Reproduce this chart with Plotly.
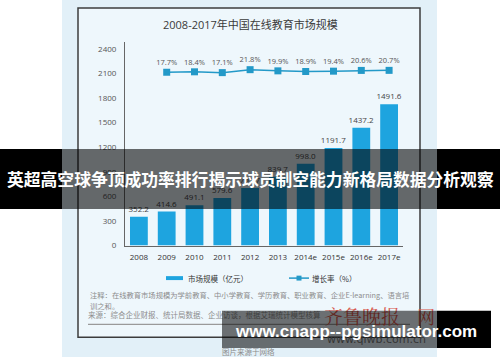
import plotly.graph_objects as go

# ---------------- data ----------------
years = ["2008", "2009", "2010", "2011", "2012", "2013", "2014e", "2015e", "2016e", "2017e"]
market_size = [352.2, 414.6, 491.1, 579.6, 701.7, 839.7, 998.0, 1191.7, 1437.2, 1725.0]
bar_labels = ["352.2", "414.6", "491.1", "579.6", "701.7", "839.7", "998.0", "1191.7", "1437.2", "1491.6"]
growth_years = ["2009", "2010", "2011", "2012", "2013", "2014e", "2015e", "2016e", "2017e"]
growth_rate = [17.7, 18.4, 17.1, 21.8, 19.9, 18.9, 19.4, 20.6, 20.7]
y_ticks = [0, 300, 600, 900, 1200, 1500, 1800, 2100, 2400]

title_text = "2008-2017年中国在线教育市场规模"
banner_text = "英超高空球争顶成功率排行揭示球员制空能力新格局数据分析观察"
url_text = "www.cnapp--pgsimulator.com"
note1 = "注释：在线教育市场规模为学前教育、中小学教育、学历教育、职业教育、企业E-learning、语言培"
note2 = "训之和。"
note3 = "来源：综合企业财报、统计局数据、企业访谈，根据艾瑞统计模型核算"
caption = "图片来源于网络"

W, H = 500, 362
def fx(x):
    return x / W
def fy(y):
    return 1 - y / H

BAR = "#1ea4df"
LINE = "#2399c8"
FONT = "Open Sans, Noto Sans CJK SC, sans-serif"
CJK = "Noto Sans CJK SC, sans-serif"

fig = go.Figure()

fig.add_trace(go.Bar(
    x=years, y=market_size, text=bar_labels, textposition="outside",
    constraintext="none", cliponaxis=False,
    textfont=dict(size=8, color="#444", family=FONT),
    marker=dict(color=BAR, line=dict(width=0)), width=0.64,
    xaxis="x", yaxis="y", showlegend=False, hoverinfo="skip",
))
fig.add_trace(go.Scatter(
    x=growth_years, y=growth_rate, mode="lines+markers+text",
    text=[f"{v}%" for v in growth_rate], textposition="top center",
    textfont=dict(size=7.5, color="#555", family=FONT),
    line=dict(color=LINE, width=1.5),
    marker=dict(symbol="square", size=7, color=LINE),
    xaxis="x", yaxis="y2", showlegend=False, cliponaxis=False, hoverinfo="skip",
))
# decorative texts that sit beneath the semi-transparent overlay box
fig.add_trace(go.Scatter(
    x=[88], y=[321], mode="text", text=[note3], textposition="middle right",
    textfont=dict(size=7.5, color="#8c8c8c", family=CJK),
    xaxis="x3", yaxis="y3", showlegend=False, hoverinfo="skip", cliponaxis=False,
))
fig.add_trace(go.Scatter(
    x=[324, 417], y=[324, 324], mode="text", text=["齐鲁晚报", "网"],
    textposition="middle right",
    textfont=dict(size=[19, 18], color=["#d8584c", "#d8584c"], family="Noto Serif CJK SC, Noto Sans CJK SC"),
    xaxis="x3", yaxis="y3", showlegend=False, hoverinfo="skip", cliponaxis=False,
))
fig.add_trace(go.Scatter(
    x=[327], y=[345], mode="text", text=["www.qlwb.com.cn"], textposition="middle right",
    textfont=dict(size=11, color="#777", family="DejaVu Sans"),
    xaxis="x3", yaxis="y3", showlegend=False, hoverinfo="skip", cliponaxis=False,
))

shapes = [
    # photo background
    dict(type="rect", xref="paper", yref="paper", x0=fx(62), x1=fx(437), y0=fy(362), y1=fy(0),
         fillcolor="#e2f0f8", line=dict(width=0), layer="below"),
    # chart frame
    dict(type="rect", xref="paper", yref="paper", x0=fx(78), x1=fx(420), y0=fy(342), y1=fy(8),
         fillcolor="#eef7fc", line=dict(color="#3c3c3c", width=1.5), layer="below"),
    # note separator
    dict(type="line", xref="paper", yref="paper", x0=fx(88), x1=fx(410), y0=fy(329), y1=fy(329),
         line=dict(color="#9a9a9a", width=1.2), layer="below"),
    # legend swatches
    dict(type="rect", xref="paper", yref="paper", x0=fx(166), x1=fx(183), y0=fy(284), y1=fy(280),
         fillcolor=BAR, line=dict(width=0), layer="below"),
    dict(type="line", xref="paper", yref="paper", x0=fx(289), x1=fx(309), y0=fy(282), y1=fy(282),
         line=dict(color=LINE, width=1.5), layer="below"),
    dict(type="rect", xref="paper", yref="paper", x0=fx(296.5), x1=fx(301.5), y0=fy(284.5), y1=fy(279.5),
         fillcolor=LINE, line=dict(width=0), layer="below"),
    # top banner
    dict(type="rect", xref="paper", yref="paper", x0=fx(0), x1=fx(62), y0=fy(212), y1=fy(151),
         fillcolor="#000", line=dict(width=0), layer="above"),
    dict(type="rect", xref="paper", yref="paper", x0=fx(62), x1=fx(437), y0=fy(212), y1=fy(151),
         fillcolor="rgba(0,0,0,0.58)", line=dict(width=0), layer="above"),
    dict(type="rect", xref="paper", yref="paper", x0=fx(437), x1=fx(500), y0=fy(212), y1=fy(151),
         fillcolor="#000", line=dict(width=0), layer="above"),
    # bottom url box
    dict(type="rect", xref="paper", yref="paper", x0=fx(222), x1=fx(437), y0=fy(353), y1=fy(315),
         fillcolor="rgba(0,0,0,0.55)", line=dict(width=0), layer="above"),
    dict(type="rect", xref="paper", yref="paper", x0=fx(437), x1=fx(491), y0=fy(353), y1=fy(315),
         fillcolor="#000", line=dict(width=0), layer="above"),
]

def ann(text, x, y, size, color, family=CJK, xanchor="center"):
    return dict(text=text, x=fx(x), y=fy(y), xref="paper", yref="paper", showarrow=False,
                xanchor=xanchor, yanchor="middle", font=dict(size=size, color=color, family=family))

annotations = [
    ann(title_text, 250, 25, 11, "#3a3a3a", family=FONT),
    ann("市场规模（亿元）", 186, 282, 7.5, "#333", xanchor="left"),
    ann("增长率（%）", 310, 282, 7.5, "#333", xanchor="left"),
    ann(note1, 88, 299, 7.3, "#8c8c8c", xanchor="left"),
    ann(note2, 88, 310, 7.3, "#8c8c8c", xanchor="left"),
    ann(caption, 248, 356, 7.5, "#8c8c8c"),
    ann("<b>" + banner_text + "</b>", 250, 182, 16.8, "#ffffff"),
    ann("<b>" + url_text + "</b>", 356, 336, 17, "#ffffff", family="Liberation Sans, Arial, sans-serif"),
]

fig.update_layout(
    width=W, height=H, margin=dict(l=0, r=0, t=0, b=0),
    paper_bgcolor="#ffffff", plot_bgcolor="rgba(0,0,0,0)",
    bargap=0.36, shapes=shapes, annotations=annotations, showlegend=False,
    xaxis=dict(domain=[fx(125), fx(403)], type="category", range=[-0.5, 9.5], anchor="y",
               showline=True, linecolor="#666", linewidth=1, ticks="", showgrid=False,
               ticklabelstandoff=4,
               tickfont=dict(size=8, color="#333", family=FONT)),
    yaxis=dict(domain=[fy(249), fy(43)], range=[0, 2480], tickvals=y_ticks, anchor="x",
               showline=True, linecolor="#666", linewidth=1, ticks="", showgrid=False, zeroline=False,
               ticklabelstandoff=6, tickfont=dict(size=8, color="#555", family=FONT)),
    yaxis2=dict(overlaying="y", range=[-257, 65], visible=False, anchor="x"),
    xaxis3=dict(domain=[0, 1], range=[0, W], visible=False, anchor="y3"),
    yaxis3=dict(domain=[0, 1], range=[H, 0], visible=False, anchor="x3"),
)

fig.write_html("out.html")
